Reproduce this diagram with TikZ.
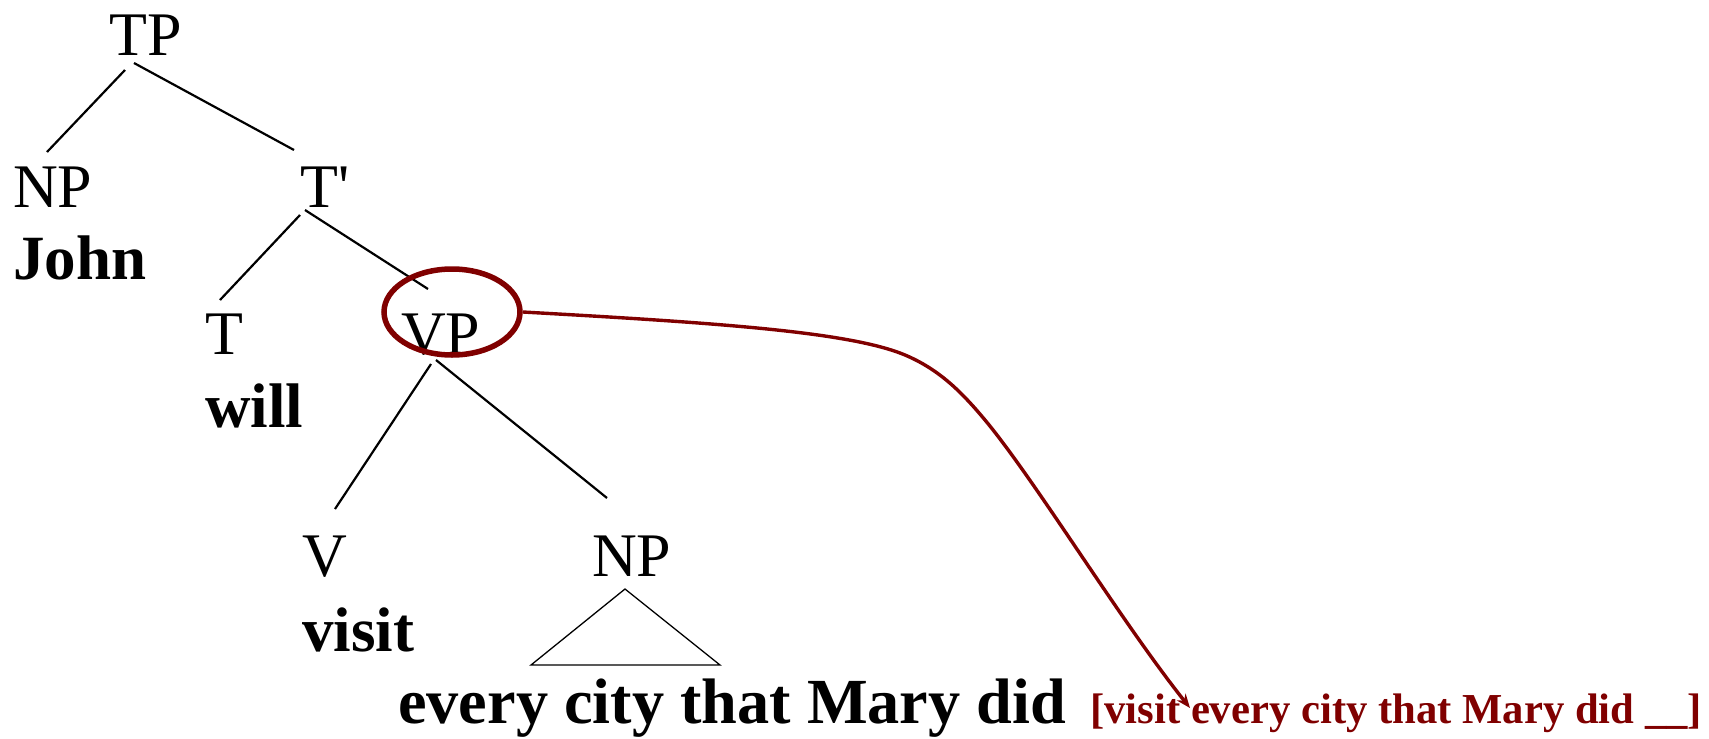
\documentclass[tikz,border=0pt]{standalone}
\usepackage{fontspec}
\newfontfamily\treefont{Liberation Serif}
\usetikzlibrary{shapes.geometric,arrows.meta}
\definecolor{vpred}{RGB}{128,0,0}
\begin{document}
\begin{tikzpicture}[x=1pt,y=-1pt,
  cat/.style={anchor=base west, inner sep=0pt, font=\treefont\fontsize{62}{62}\selectfont},
  word/.style={anchor=base west, inner sep=0pt, font=\treefont\bfseries\fontsize{63}{63}\selectfont},
  bigword/.style={word, font=\treefont\bfseries\fontsize{64.3}{64.3}\selectfont},
  copyword/.style={anchor=base west, inner sep=0pt, text=vpred, font=\treefont\bfseries\fontsize{42.7}{42.7}\selectfont},
  branch/.style={line width=2.2pt},
  roof/.style={line width=1.3pt, line join=miter},
  ring/.style={ellipse, draw=vpred, line width=5.5pt, minimum width=136pt, minimum height=86pt, inner sep=0pt},
  link/.style={draw=vpred, line width=3.4pt, -{Stealth[length=14pt,width=11pt]}}]
\useasboundingbox (0,0) rectangle (1709,739);

% category labels and words
\node[cat]  (TP)   at (109,55)  {TP};
\node[cat]  (NPa)  at (13,207)  {NP};
\node[word] (john) at (13,279)  {John};
\node[cat]  (Tbar) at (300,207) {T'};
\node[cat]  (T)    at (205,354) {T};
\node[word] (will) at (205,427) {will};
\node[cat]  (VP)   at (401,354) {VP};
\node[cat]  (V)    at (302,576) {V};
\node[word] (visit) at (302,651) {visit};
\node[cat]  (NPb)  at (592,576) {NP};
\node[bigword] (obj) at (398,723) {every city that Mary did};
\node[copyword] (copy) at (1090,723) {[visit every city that Mary did \_\_]};

% branches
\draw[branch] ([shift={(16,15)}]TP.base west) -- ([shift={(34,-55)}]NPa.base west);
\draw[branch] ([shift={(25,8)}]TP.base west) -- ([shift={(-6,-57)}]Tbar.base west);
\draw[branch] ([shift={(0,8)}]Tbar.base west) -- ([shift={(15,-54)}]T.base west);
\draw[branch] ([shift={(5,3)}]Tbar.base west) -- ([shift={(27,-65)}]VP.base west);
\draw[branch] ([shift={(30,10)}]VP.base west) -- ([shift={(33,-67)}]V.base west);
\draw[branch] ([shift={(35,6)}]VP.base west) -- ([shift={(15,-78)}]NPb.base west);

% triangle over the object
\draw[roof] ([shift={(33,13)}]NPb.base west) -- ([shift={(-61,89)}]NPb.base west)
  -- ([shift={(128,89)}]NPb.base west) -- cycle;

% circled VP and the link to its copy
\node[ring] (circ) at ([shift={(51,-42)}]VP.base west) {};
\draw[link] (circ.east) .. controls (720,323) and (850,332) .. (905,355)
  .. controls (938,369) and (960,390) .. (985,420)
  .. controls (1035,480) and (1120,620) .. ([shift={(100,-15)}]copy.base west);
\end{tikzpicture}
\end{document}
